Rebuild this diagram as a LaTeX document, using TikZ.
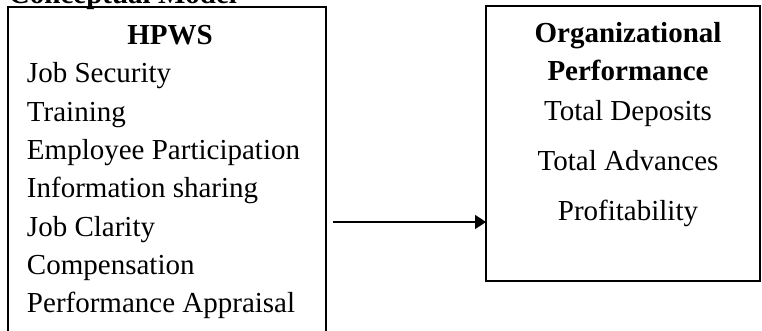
\documentclass[tikz,border=0pt]{standalone}
\usepackage{fontspec}
\setmainfont{Liberation Serif}
\usetikzlibrary{positioning, arrows.meta}

\begin{document}
\begin{tikzpicture}[
    x=1pt, y=-1pt,
    >={Triangle[length=11pt,width=14pt]},
    every node/.style={inner sep=0pt, outer sep=0pt,
        font=\fontsize{29}{35}\selectfont},
    box/.style={
        draw,
        rectangle,
        line width=1.6pt,
        anchor=north west
    },
    head/.style={font=\fontsize{29}{35}\selectfont\bfseries},
    item/.style={anchor=base west}
]
\clip (0,0) rectangle (762,331);

% title
\node[head, anchor=base west] (title) at (9,4) {Conceptual Model};
% boxes
\node[box, minimum width=318pt, minimum height=340pt] (hpws) at (8,7) {};
\node[box, minimum width=274pt, minimum height=275pt] (orgperf) at (486,6) {};
% left box text
\node[head, anchor=base] (hpwshead) at (170,45) {HPWS};
\foreach \txt [count=\i from 0] in {Job Security, Training,
    Employee Participation, Information sharing, Job Clarity,
    Compensation, Performance Appraisal}
    \node[item] (hp\i) at (27,{83+38.3*\i}) {\txt};
% right box text
\node[head, anchor=base] (orghead) at (628,43) {Organizational};
\node[head, anchor=base] (perfhead) at (628,81) {Performance};
\node[anchor=base] (deposits) at (628,121) {Total Deposits};
\node[anchor=base] (advances) at (628,171) {Total Advances};
\node[anchor=base] (profit) at (628,220) {Profitability};
% link
\coordinate (arrowstart) at (333,222);
\draw[->, line width=1.6pt] (arrowstart) -- (arrowstart -| orgperf.west);
\end{tikzpicture}
\end{document}
